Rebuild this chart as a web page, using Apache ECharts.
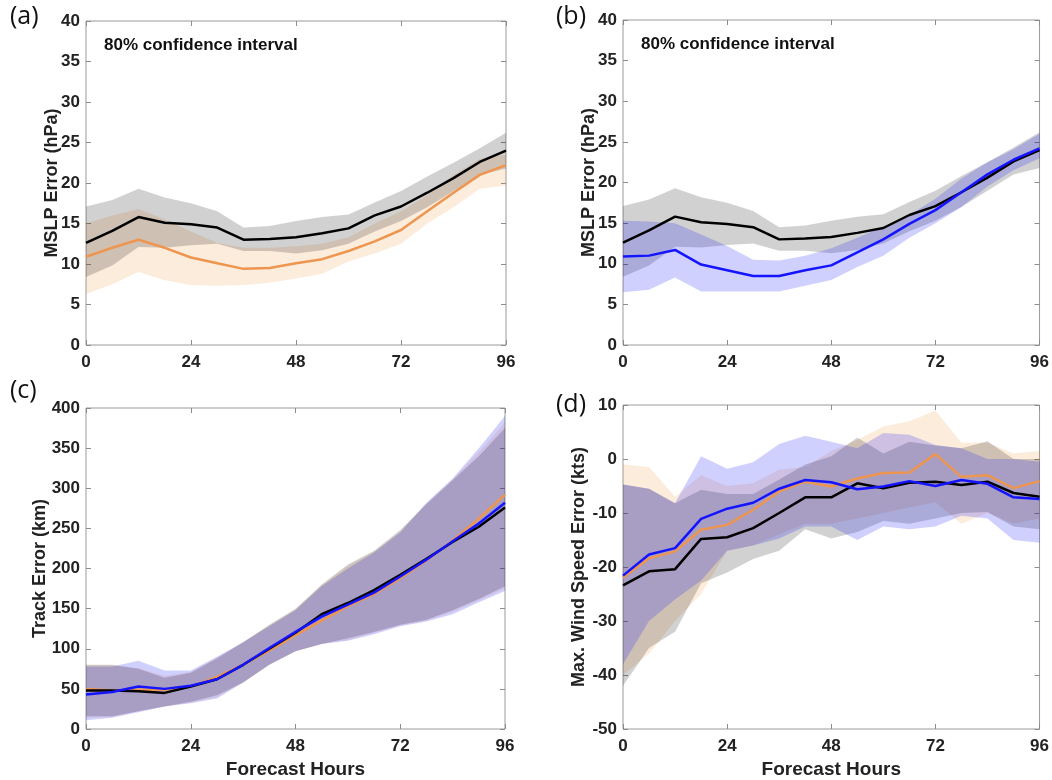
<!DOCTYPE html>
<html>
<head>
<meta charset="utf-8">
<script src="https://cdn.jsdelivr.net/npm/echarts@6/dist/echarts.min.js"></script>
<style>
  html, body { margin: 0; padding: 0; background: #fff; }
  #chart { width: 1052px; height: 780px; }
</style>
</head>
<body>
<div id="chart"></div>
<script>
// forecast hours (x)
const hours = [0, 6, 12, 18, 24, 30, 36, 42, 48, 54, 60, 66, 72, 78, 84, 90, 96];
const xTicks = [0, 24, 48, 72, 96];

// (a)/(b) MSLP error (hPa)
const mslpBlack   = [12.6, 14.1, 15.8, 15.1, 14.9, 14.5, 13.0, 13.1, 13.3, 13.8, 14.4, 16.0, 17.1, 18.8, 20.6, 22.6, 24.0];
const mslpBlackHi = [17.1, 17.9, 19.3, 18.2, 17.5, 16.5, 14.5, 14.7, 15.3, 15.8, 16.1, 17.6, 19.0, 20.8, 22.5, 24.3, 26.2];
const mslpBlackLo = [8.4, 9.8, 12.1, 12.0, 12.3, 12.5, 11.6, 11.6, 11.3, 11.7, 12.5, 14.0, 15.3, 17.0, 19.0, 21.0, 21.8];
const mslpOrange   = [10.9, 12.0, 13.0, 12.0, 10.8, 10.1, 9.4, 9.5, 10.1, 10.6, 11.6, 12.8, 14.2, 16.5, 18.8, 21.0, 22.2];
const mslpOrangeHi = [15.0, 16.0, 16.8, 15.5, 14.0, 12.6, 12.0, 12.0, 12.2, 12.5, 13.3, 15.0, 16.5, 18.5, 21.0, 23.0, 23.5];
const mslpOrangeLo = [6.3, 7.5, 9.0, 8.0, 7.4, 7.3, 7.4, 7.7, 8.2, 8.8, 10.3, 11.3, 12.5, 15.0, 17.0, 19.3, 19.7];
const mslpBlue   = [10.9, 11.0, 11.7, 9.9, 9.2, 8.5, 8.5, 9.2, 9.8, 11.4, 13.0, 14.9, 16.6, 18.8, 21.0, 22.8, 24.2];
const mslpBlueHi = [15.3, 15.2, 15.0, 13.6, 12.2, 10.5, 10.4, 11.0, 11.9, 13.2, 14.6, 16.0, 18.0, 20.5, 22.5, 24.1, 26.0];
const mslpBlueLo = [6.5, 6.8, 8.3, 6.6, 6.6, 6.6, 6.6, 7.3, 8.0, 9.6, 11.0, 13.2, 15.0, 17.0, 19.5, 21.5, 23.0];

// (c) track error (km)
const trackBlack   = [48, 48, 47, 45, 53, 62, 80, 100, 120, 143, 157, 173, 192, 212, 233, 252, 276];
const trackBlackHi = [80, 80, 75, 64, 70, 88, 108, 130, 150, 180, 205, 222, 248, 280, 310, 340, 375];
const trackBlackLo = [16, 16, 22, 28, 34, 42, 58, 80, 97, 106, 113, 121, 130, 136, 148, 162, 178];
const trackOrange   = [50, 48, 49, 49, 53, 65, 80, 98, 117, 135, 153, 168, 188, 210, 235, 262, 292];
const trackOrangeHi = [79, 79, 76, 66, 71, 89, 108, 129, 149, 179, 203, 221, 246, 281, 311, 345, 382];
const trackOrangeLo = [14, 15, 22, 28, 33, 40, 58, 80, 97, 106, 111, 120, 129, 135, 146, 160, 175];
const trackBlue   = [43, 46, 53, 50, 54, 62, 80, 101, 121, 140, 155, 170, 190, 211, 234, 256, 282];
const trackBlueHi = [78, 78, 85, 73, 73, 90, 108, 128, 148, 178, 200, 220, 245, 282, 312, 350, 390];
const trackBlueLo = [11, 14, 21, 28, 32, 38, 58, 80, 97, 106, 110, 118, 128, 134, 143, 158, 172];

// (d) max wind speed error (kts)
const windBlack   = [-23.4, -20.8, -20.4, -14.8, -14.5, -12.8, -10.0, -7.1, -7.1, -4.5, -5.4, -4.4, -4.2, -4.8, -4.2, -6.3, -7.0];
const windBlackHi = [-4.7, -5.5, -8.2, -5.7, -6.5, -6.5, -3.8, -1.0, 0.5, 4.0, 1.0, 3.2, 2.5, 2.0, 3.3, 0.0, 0.0];
const windBlackLo = [-42, -35, -32, -23, -21, -18.5, -17, -13, -14.7, -13.5, -11.5, -12, -11, -10, -9.8, -12.5, -13];
const windOrange   = [-22.0, -18.4, -17.1, -13.1, -12.2, -9.4, -6.0, -4.2, -5.1, -3.6, -2.6, -2.5, 0.9, -3.3, -3.0, -5.4, -4.1];
const windOrangeHi = [-1, -1.5, -7, -3, -5, -4.5, -2, -1.5, 1.5, 3.5, 6, 7, 9, 3, 3, 1, 1.5];
const windOrangeLo = [-40, -36, -30, -25, -17, -16, -14, -12, -12, -11, -10, -9, -8, -12, -10, -12, -11];
const windBlue   = [-21.6, -17.7, -16.5, -11.1, -9.2, -8.1, -5.5, -3.9, -4.3, -5.6, -5.1, -4.1, -5.0, -3.9, -4.6, -7.1, -7.4];
const windBlueHi = [-4.7, -5.5, -8.2, 0.5, -1.8, -0.6, 2.8, 4.3, 3.2, 2.0, 4.8, 4.5, 2.6, 2.0, 0.0, 0.0, -0.5];
const windBlueLo = [-38, -30, -26, -22.5, -17, -16, -14.7, -12.5, -12.5, -15, -12.5, -13, -12.5, -10.5, -11, -15, -15.5];

const BLACK = '#000000';
const ORANGE = '#ee9550';
const BLUE = '#1414ff';
const GRAY_BAND = 'rgba(0,0,0,0.18)';
const ORANGE_BAND = 'rgba(240,150,60,0.18)';
const BLUE_BAND = 'rgba(20,20,255,0.2)';

const FONT = 'Liberation Sans, Arial, sans-serif';

const chart = echarts.init(document.getElementById('chart'));

// plot boxes
const grids = [
  { left: 86, top: 21, width: 420, height: 324 },
  { left: 623, top: 20, width: 420, height: 325 },
  { left: 86, top: 408, width: 419, height: 324 },
  { left: 623, top: 405, width: 420, height: 325 }
];

const yRanges = [
  { min: 0, max: 40, interval: 5, name: 'MSLP Error (hPa)', gap: 25 },
  { min: 0, max: 40, interval: 5, name: 'MSLP Error (hPa)', gap: 25 },
  { min: 0, max: 400, interval: 50, name: 'Track Error (km)', gap: 37 },
  { min: -50, max: 10, interval: 10, name: 'Max. Wind Speed Error (kts)', gap: 35 }
];

const tick = { show: true, inside: true, length: 5, lineStyle: { color: '#8c8c8c', width: 1 } };

const xAxes = [];
const yAxes = [];
grids.forEach((g, i) => {
  xAxes.push({
    gridIndex: i, type: 'value', min: 0, max: 96, interval: 24, position: 'bottom',
    axisLine: { show: false, onZero: false }, axisTick: tick, splitLine: { show: false },
    axisLabel: { margin: 9, fontFamily: FONT, fontWeight: 'bold', fontSize: 17, color: '#222' },
    name: i >= 2 ? 'Forecast Hours' : '', nameLocation: 'middle', nameGap: 31, nameMoveOverlap: false,
    nameTextStyle: { fontFamily: FONT, fontWeight: 'bold', fontSize: 19, color: '#222' }
  });
  xAxes.push({
    gridIndex: i, type: 'value', min: 0, max: 96, interval: 24, position: 'top',
    axisLine: { show: false, onZero: false }, axisTick: tick, axisLabel: { show: false }, splitLine: { show: false }
  });
  const r = yRanges[i];
  yAxes.push({
    gridIndex: i, type: 'value', min: r.min, max: r.max, interval: r.interval, position: 'left',
    axisLine: { show: false, onZero: false }, axisTick: tick, splitLine: { show: false },
    axisLabel: { margin: 6, fontFamily: FONT, fontWeight: 'bold', fontSize: 17, color: '#222' },
    name: r.name, nameLocation: 'middle', nameGap: r.gap, nameRotate: 90, nameMoveOverlap: false,
    nameTextStyle: { fontFamily: FONT, fontWeight: 'bold', fontSize: 18, color: '#222' }
  });
  yAxes.push({
    gridIndex: i, type: 'value', min: r.min, max: r.max, interval: r.interval, position: 'right',
    axisLine: { show: false, onZero: false }, axisTick: tick, axisLabel: { show: false }, splitLine: { show: false }
  });
});

// shaded confidence band as one polygon, drawn through the axis scales
function band(gi, lo, hi, color) {
  return {
    type: 'custom',
    xAxisIndex: gi * 2, yAxisIndex: gi * 2,
    data: hours.map((h, i) => [h, lo[i], hi[i]]),
    encode: { x: 0, y: [1, 2] },
    silent: true, z: 1,
    renderItem: function (params, api) {
      if (params.dataIndex !== 0) return null;
      const top = hours.map((h, i) => api.coord([h, hi[i]]));
      const bot = hours.map((h, i) => api.coord([h, lo[i]])).reverse();
      return { type: 'polygon', shape: { points: top.concat(bot) }, style: { fill: color } };
    }
  };
}

function line(gi, vals, color) {
  return {
    type: 'line',
    xAxisIndex: gi * 2, yAxisIndex: gi * 2,
    data: hours.map((h, i) => [h, vals[i]]),
    symbol: 'none', z: 5, silent: true,
    lineStyle: { color: color, width: 2.5 }
  };
}

const series = [
  band(0, mslpOrangeLo, mslpOrangeHi, ORANGE_BAND),
  band(0, mslpBlackLo, mslpBlackHi, GRAY_BAND),
  line(0, mslpOrange, ORANGE),
  line(0, mslpBlack, BLACK),

  band(1, mslpBlackLo, mslpBlackHi, GRAY_BAND),
  band(1, mslpBlueLo, mslpBlueHi, BLUE_BAND),
  line(1, mslpBlack, BLACK),
  line(1, mslpBlue, BLUE),

  band(2, trackOrangeLo, trackOrangeHi, ORANGE_BAND),
  band(2, trackBlackLo, trackBlackHi, GRAY_BAND),
  band(2, trackBlueLo, trackBlueHi, BLUE_BAND),
  line(2, trackOrange, ORANGE),
  line(2, trackBlack, BLACK),
  line(2, trackBlue, BLUE),

  band(3, windOrangeLo, windOrangeHi, ORANGE_BAND),
  band(3, windBlackLo, windBlackHi, GRAY_BAND),
  band(3, windBlueLo, windBlueHi, BLUE_BAND),
  line(3, windOrange, ORANGE),
  line(3, windBlack, BLACK),
  line(3, windBlue, BLUE)
];

const panelText = (t, x, y) => ({
  type: 'text', left: x, top: y,
  style: { text: t, font: '25px "Open Sans", "Noto Sans", sans-serif', fill: '#111' }
});
const noteText = (x, y) => ({
  type: 'text', left: x, top: y,
  style: { text: '80% confidence interval', font: 'bold 17px ' + FONT, fill: '#111' }
});

chart.setOption({
  animation: false,
  backgroundColor: '#fff',
  grid: grids.map(g => Object.assign({ show: true, borderColor: '#9a9a9a', borderWidth: 1, backgroundColor: 'transparent' }, g)),
  xAxis: xAxes,
  yAxis: yAxes,
  series: series,
  graphic: [
    panelText('(a)', 10, 4),
    panelText('(b)', 556, 4),
    panelText('(c)', 10, 378),
    panelText('(d)', 556, 392),
    noteText(104, 37),
    noteText(641, 36)
  ]
});
</script>
</body>
</html>
